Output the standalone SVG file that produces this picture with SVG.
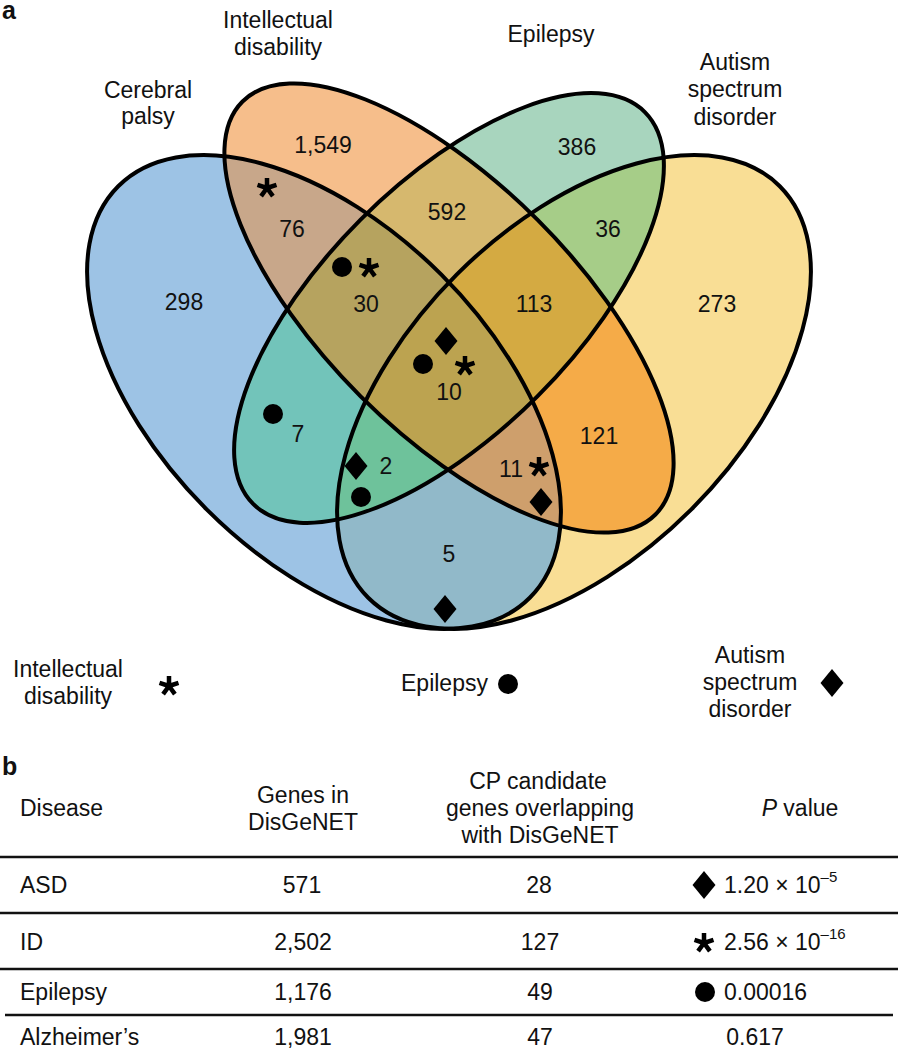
<svg xmlns="http://www.w3.org/2000/svg" width="898" height="1050" viewBox="0 0 898 1050">
<style>
text{font-family:"Liberation Sans",Arial,Helvetica,sans-serif;font-size:23px;fill:#111}
.c{text-anchor:middle}
.bold{font-weight:bold;font-size:25px}
.sup{font-size:15px}
.out{fill:none;stroke:#000;stroke-width:4}
.rule{stroke:#111;stroke-width:2.6}
.star{fill:none;stroke:#000;stroke-width:4.5}
.sym{fill:#000}
</style>
<defs>
<ellipse id="eCP" cx="324" cy="392" rx="291" ry="166" transform="rotate(45 324 392)"/>
<ellipse id="eID" cx="449" cy="308" rx="292" ry="125" transform="rotate(45 449 308)"/>
<ellipse id="eEP" cx="449" cy="308" rx="277" ry="125" transform="rotate(-45 449 308)"/>
<ellipse id="eASD" cx="574" cy="392" rx="291" ry="166" transform="rotate(-45 574 392)"/>
<clipPath id="cCP"><use href="#eCP"/></clipPath>
<clipPath id="cID"><use href="#eID"/></clipPath>
<clipPath id="cEP"><use href="#eEP"/></clipPath>
<clipPath id="cASD"><use href="#eASD"/></clipPath>
<path id="star" class="star" d="M0,0V-10M0,0L9.5,-3.1M0,0L5.9,8.1M0,0L-5.9,8.1M0,0L-9.5,-3.1"/>
<path id="dia" class="sym" d="M0,-14L11.5,0L0,14L-11.5,0Z"/>
</defs>
<rect width="898" height="1050" fill="#fff"/>

<g id="venn-fills">
<use href="#eCP" fill="#9DC3E5"/>
<use href="#eID" fill="#F6BE8B"/>
<use href="#eEP" fill="#A8D5BE"/>
<use href="#eASD" fill="#F9DE95"/>
<g clip-path="url(#cCP)"><use href="#eID" fill="#C8A78A"/></g>
<g clip-path="url(#cCP)"><use href="#eEP" fill="#72C4BA"/></g>
<g clip-path="url(#cCP)"><use href="#eASD" fill="#91B9C9"/></g>
<g clip-path="url(#cID)"><use href="#eEP" fill="#D6B86E"/></g>
<g clip-path="url(#cID)"><use href="#eASD" fill="#F5AB48"/></g>
<g clip-path="url(#cEP)"><use href="#eASD" fill="#A6CD88"/></g>
<g clip-path="url(#cCP)"><g clip-path="url(#cID)"><use href="#eEP" fill="#B6A35F"/></g></g>
<g clip-path="url(#cCP)"><g clip-path="url(#cID)"><use href="#eASD" fill="#CE9F6C"/></g></g>
<g clip-path="url(#cCP)"><g clip-path="url(#cEP)"><use href="#eASD" fill="#6EC29B"/></g></g>
<g clip-path="url(#cID)"><g clip-path="url(#cEP)"><use href="#eASD" fill="#D4AA42"/></g></g>
<g clip-path="url(#cCP)"><g clip-path="url(#cID)"><g clip-path="url(#cEP)"><use href="#eASD" fill="#BCA350"/></g></g></g>
</g>

<g id="set-cerebral-palsy"><use href="#eCP" class="out"/><text class="c" x="148" y="98">Cerebral</text><text class="c" x="148" y="124">palsy</text></g>
<g id="set-intellectual-disability"><use href="#eID" class="out"/><text class="c" x="278" y="28">Intellectual</text><text class="c" x="278" y="55">disability</text></g>
<g id="set-epilepsy"><use href="#eEP" class="out"/><text class="c" x="551" y="42">Epilepsy</text></g>
<g id="set-asd"><use href="#eASD" class="out"/><text class="c" x="735" y="70">Autism</text><text class="c" x="735" y="97">spectrum</text><text class="c" x="735" y="125">disorder</text></g>

<g id="counts">
<text class="c" x="323" y="153">1,549</text>
<text class="c" x="577" y="155">386</text>
<text class="c" x="292" y="237">76</text>
<text class="c" x="447" y="220">592</text>
<text class="c" x="608" y="237">36</text>
<text class="c" x="184" y="310">298</text>
<text class="c" x="366" y="312">30</text>
<text class="c" x="534" y="312">113</text>
<text class="c" x="717" y="312">273</text>
<text class="c" x="449" y="400">10</text>
<text class="c" x="298" y="442">7</text>
<text class="c" x="386" y="474">2</text>
<text class="c" x="599" y="444">121</text>
<text class="c" x="511" y="477">11</text>
<text class="c" x="449" y="562">5</text>
</g>

<g id="markers">
<use href="#star" x="267" y="188"/>
<circle class="sym" cx="342" cy="267" r="10"/>
<use href="#star" x="369" y="268"/>
<use href="#dia" x="446" y="341"/>
<circle class="sym" cx="423" cy="364" r="10"/>
<use href="#star" x="465" y="366"/>
<circle class="sym" cx="273" cy="414" r="10"/>
<use href="#dia" x="356" y="466"/>
<circle class="sym" cx="361" cy="497" r="10"/>
<use href="#star" x="539" y="467"/>
<use href="#dia" x="541" y="502"/>
<use href="#dia" x="445" y="609"/>
</g>

<g id="panel-labels">
<text class="bold" x="2" y="19">a</text>
<text class="bold" x="2" y="775">b</text>
</g>

<g id="legend">
<g id="legend-id"><text class="c" x="68" y="677">Intellectual</text><text class="c" x="68" y="704">disability</text><use href="#star" x="169" y="686"/></g>
<g id="legend-ep"><text x="401" y="691">Epilepsy</text><circle class="sym" cx="508" cy="684" r="10"/></g>
<g id="legend-asd"><text class="c" x="750" y="663">Autism</text><text class="c" x="750" y="690">spectrum</text><text class="c" x="750" y="717">disorder</text><use href="#dia" x="832" y="683"/></g>
</g>

<g id="table">
<text x="20" y="816">Disease</text>
<text class="c" x="303" y="803">Genes in</text>
<text class="c" x="303" y="830">DisGeNET</text>
<text class="c" x="538" y="789">CP candidate</text>
<text class="c" x="540" y="816">genes overlapping</text>
<text class="c" x="540" y="843">with DisGeNET</text>
<text class="c" x="800" y="816"><tspan font-style="italic">P</tspan> value</text>
<line class="rule" x1="0" y1="857" x2="898" y2="857"/>
<line class="rule" x1="0" y1="913" x2="898" y2="913"/>
<line class="rule" x1="0" y1="969" x2="898" y2="969"/>
<line class="rule" x1="5" y1="1015" x2="893" y2="1015"/>
<text x="20" y="893">ASD</text>
<text class="c" x="302" y="893">571</text>
<text class="c" x="539" y="893">28</text>
<use href="#dia" x="704" y="885"/>
<text x="724" y="893">1.20 × 10<tspan class="sup" dy="-11">–5</tspan></text>
<text x="20" y="950">ID</text>
<text class="c" x="303" y="950">2,502</text>
<text class="c" x="540" y="950">127</text>
<use href="#star" x="704" y="943"/>
<text x="724" y="950">2.56 × 10<tspan class="sup" dy="-11">–16</tspan></text>
<text x="20" y="1000">Epilepsy</text>
<text class="c" x="303" y="1000">1,176</text>
<text class="c" x="540" y="1000">49</text>
<circle class="sym" cx="705" cy="992" r="10"/>
<text x="724" y="1000">0.00016</text>
<text x="20" y="1045">Alzheimer’s</text>
<text class="c" x="303" y="1045">1,981</text>
<text class="c" x="540" y="1045">47</text>
<text class="c" x="755" y="1045">0.617</text>
</g>
</svg>
